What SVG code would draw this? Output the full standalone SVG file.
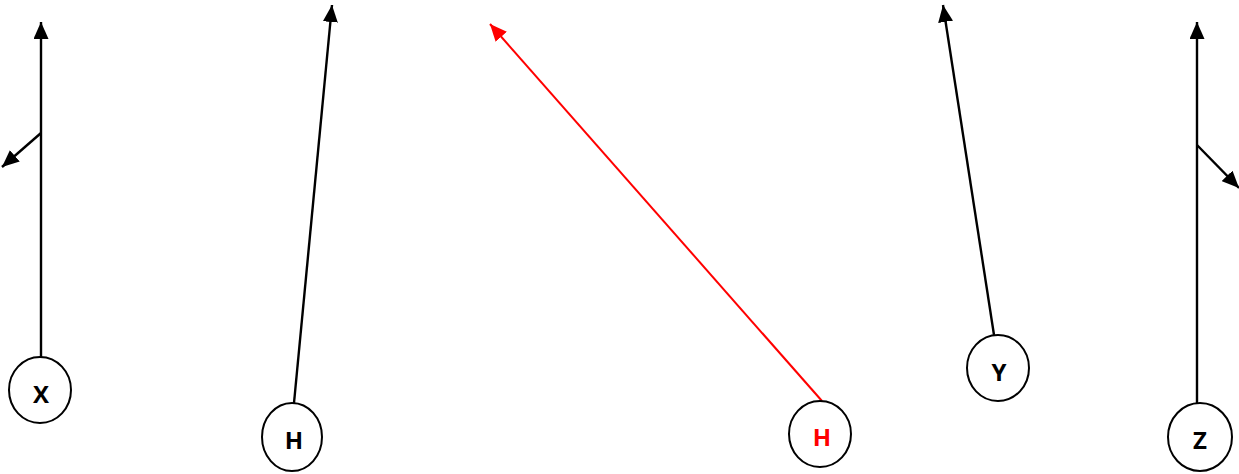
<svg xmlns="http://www.w3.org/2000/svg" width="1239" height="474" viewBox="0 0 1239 474">
<style>
.node ellipse{fill:#fff;stroke:#000;stroke-width:2}
.node text{font-family:"Open Sans","Liberation Sans",sans-serif;font-weight:bold;font-size:24px;text-anchor:middle;fill:#000}
.conn{stroke:#000;stroke-width:2.4;fill:none}
.red{stroke:#f00;stroke-width:2}
</style>
<defs>
<marker id="ah" markerUnits="userSpaceOnUse" markerWidth="17" markerHeight="15" refX="17" refY="7.5" orient="auto"><path d="M0,0 L17,7.5 L0,15 Z" fill="#000"/></marker>
<marker id="ahr" markerUnits="userSpaceOnUse" markerWidth="17" markerHeight="15" refX="17" refY="7.5" orient="auto"><path d="M0,0 L17,7.5 L0,15 Z" fill="#f00"/></marker>
</defs>
<g id="connectors">
<line class="conn" x1="41" y1="357" x2="41" y2="22" marker-end="url(#ah)"/>
<line class="conn" x1="41" y1="133" x2="2" y2="167" marker-end="url(#ah)"/>
<line class="conn" x1="294" y1="403" x2="332" y2="5" marker-end="url(#ah)"/>
<line class="conn red" x1="822" y1="401" x2="490" y2="24" marker-end="url(#ahr)"/>
<line class="conn" x1="994" y1="335" x2="943" y2="5" marker-end="url(#ah)"/>
<line class="conn" x1="1197" y1="403" x2="1197" y2="22" marker-end="url(#ah)"/>
<line class="conn" x1="1197" y1="145" x2="1239" y2="188" marker-end="url(#ah)"/>
</g>
<g id="node-x" class="node"><ellipse cx="40" cy="390" rx="31" ry="33"/><text x="41" y="403">X</text></g>
<g id="node-h1" class="node"><ellipse cx="292" cy="437" rx="30" ry="34"/><text x="294" y="449">H</text></g>
<g id="node-h2" class="node"><ellipse cx="820" cy="434" rx="31" ry="33"/><text x="822" y="446" style="fill:#f00">H</text></g>
<g id="node-y" class="node"><ellipse cx="998" cy="368" rx="31" ry="33"/><text x="999" y="381">Y</text></g>
<g id="node-z" class="node"><ellipse cx="1200" cy="437" rx="32" ry="34"/><text x="1200" y="449">Z</text></g>
</svg>
